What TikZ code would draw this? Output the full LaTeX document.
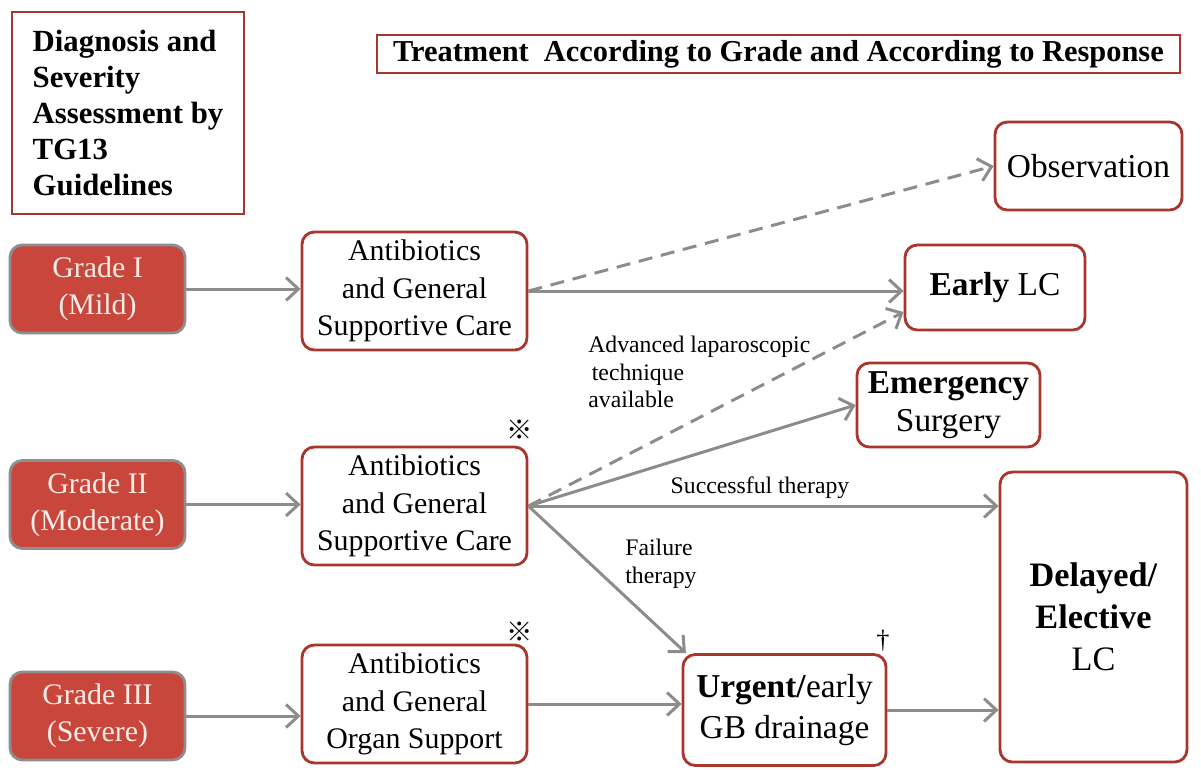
\documentclass[tikz,border=0pt]{standalone}
\usepackage{fontspec}
\setmainfont{Liberation Serif}
\newfontfamily\cjk{Noto Sans CJK JP}
\usetikzlibrary{arrows.meta}
\definecolor{boxred}{HTML}{A9362C}
\definecolor{gradefill}{HTML}{C8463C}
\definecolor{gradeline}{HTML}{8E8E8E}
\definecolor{gradetext}{HTML}{FBEDE6}
\definecolor{arrowgray}{HTML}{8C8C8C}
\begin{document}
\begin{tikzpicture}[
    box/.style={draw=boxred, line width=1.6pt, rounded corners=7pt, fill=white, align=center,
      font=\fontsize{17}{21.5}\selectfont},
    sqbox/.style={draw=boxred, line width=1.6pt, fill=white},
    grade/.style={draw=gradeline, line width=1.6pt, rounded corners=7pt, fill=gradefill,
      text=gradetext, align=center, minimum width=3.5cm, minimum height=1.76cm,
      font=\fontsize{17}{21}\selectfont},
    arr/.style={draw=arrowgray, line width=1.7pt, -{Straight Barb[length=7pt,width=13pt,line width=1.7pt]}},
    dashline/.style={dash pattern=on 8pt off 5pt},
    note/.style={font=\fontsize{13.5}{15.5}\selectfont, align=left, inner sep=0pt},
    refmark/.style={font=\cjk\fontsize{15}{15}\selectfont, inner sep=0pt}
  ]
  \useasboundingbox (0,0) rectangle (24.02,-15.38);
  \node[sqbox, minimum width=4.64cm, minimum height=4.04cm, align=left,
    font=\bfseries\fontsize{17.5}{20.5}\selectfont] (diag) at (2.56,-2.26)
    {Diagnosis and\\Severity\\Assessment by\\TG13\\Guidelines};
  \node[sqbox, minimum width=16.06cm, minimum height=0.76cm, inner sep=0pt,
    font=\bfseries\fontsize{17.3}{19}\selectfont] (title) at (15.57,-1.08)
    {Treatment\ \ According to Grade and According to Response};
  \node[grade] (g1) at (1.95,-5.78) {Grade I\\(Mild)};
  \node[grade] (g2) at (1.95,-10.09) {Grade II\\(Moderate)};
  \node[grade] (g3) at (1.95,-14.32) {Grade III\\(Severe)};
  \node[box, minimum width=4.5cm, minimum height=2.36cm] (a1) at (8.29,-5.82)
    {Antibiotics\\and General\\Supportive Care};
  \node[box, minimum width=4.5cm, minimum height=2.36cm] (a2) at (8.29,-10.12)
    {Antibiotics\\and General\\Supportive Care};
  \node[box, minimum width=4.5cm, minimum height=2.36cm] (a3) at (8.29,-14.08)
    {Antibiotics\\and General\\Organ Support};
  \node[box, minimum width=3.74cm, minimum height=1.76cm, font=\fontsize{19}{22}\selectfont] (obs)
    at (21.77,-3.32) {Observation};
  \node[box, minimum width=3.6cm, minimum height=1.7cm, font=\fontsize{19}{22}\selectfont] (early)
    at (19.9,-5.75) {\textbf{Early} LC};
  \node[box, minimum width=3.66cm, minimum height=1.68cm, font=\fontsize{19}{22}\selectfont] (emerg)
    at (18.97,-8.1) {\textbf{Emergency}\\Surgery};
  \node[box, minimum width=3.74cm, minimum height=5.8cm, font=\fontsize{19.5}{24}\selectfont] (delayed)
    at (21.87,-12.34) {\textbf{Delayed/}\\\textbf{Elective}\\LC};
  \node[box, minimum width=4.06cm, minimum height=2.22cm, font=\fontsize{19}{23}\selectfont] (urgent)
    at (15.69,-14.2) {\textbf{Urgent/}early\\GB drainage};
  \node[note, anchor=north west] (adv) at (11.76,-6.72)
    {Advanced laparoscopic\\\hspace{2pt}technique\\available};
  \node[note] (succ) at (15.2,-9.76) {Successful therapy};
  \node[note, anchor=north west] (fail) at (12.5,-10.78) {Failure\\therapy};
  \node[refmark] (m2) at (10.4,-8.6) {※};
  \node[refmark] (m3) at (10.4,-12.64) {※};
  \node[font=\fontsize{15}{15}\selectfont, inner sep=0pt] (dag) at (17.66,-12.82) {\dag};
  \begin{scope}[arr]
    \draw (g1.east) -- (g1.east -| a1.west);
    \draw (g2.east) -- (g2.east -| a2.west);
    \draw (g3.east) -- (g3.east -| a3.west);
    \draw (a1.east) -- (a1.east -| early.west);
    \draw[dashline] (a1.east) -- (obs.west);
    \draw[dashline] (a2.east) -- (early.195);
    \draw (a2.east) -- (emerg.west);
    \draw (a2.east) -- (a2.east -| delayed.west);
    \draw (a2.east) -- (urgent.150);
    \draw (a3.east) -- (a3.east -| urgent.west);
    \draw (urgent.east) -- (urgent.east -| delayed.west);
  \end{scope}
\end{tikzpicture}
\end{document}
